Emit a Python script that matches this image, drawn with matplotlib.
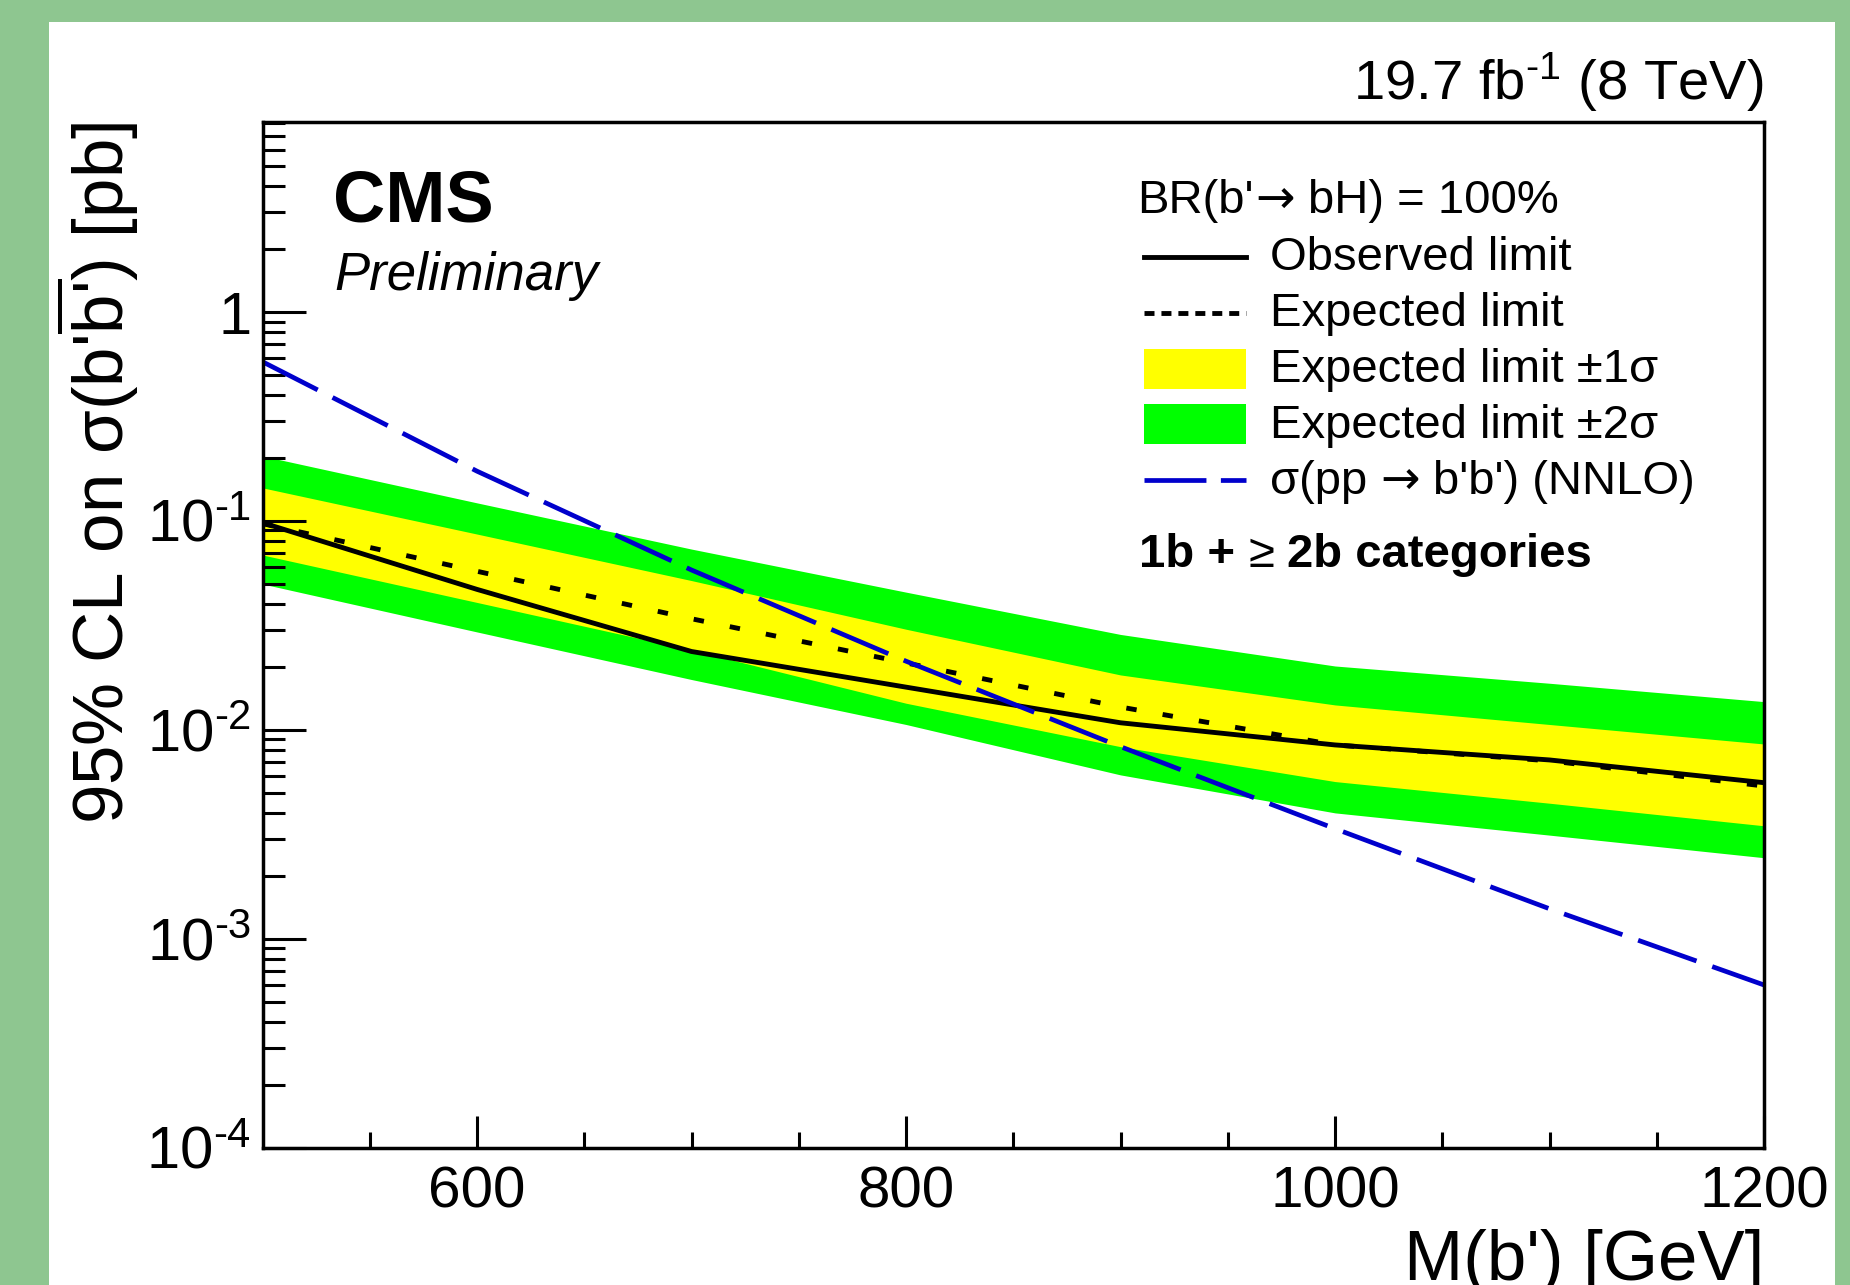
import matplotlib
matplotlib.use('Agg')
import matplotlib.pyplot as plt
import numpy as np
from matplotlib.lines import Line2D
from matplotlib.patches import Rectangle
from matplotlib.ticker import FixedLocator, FuncFormatter, LogLocator, NullFormatter

plt.rcParams['font.family'] = ['Liberation Sans', 'DejaVu Sans']
plt.rcParams['mathtext.fontset'] = 'custom'
plt.rcParams['mathtext.rm'] = 'Liberation Sans'
plt.rcParams['mathtext.it'] = 'Liberation Sans:italic'
plt.rcParams['mathtext.bf'] = 'Liberation Sans:bold'
plt.rcParams['mathtext.sf'] = 'Liberation Sans'
plt.rcParams['mathtext.default'] = 'regular'
plt.rcParams['lines.scale_dashes'] = False

# ---------------- data ----------------
mass = [500, 600, 700, 800, 900, 1000, 1100, 1200]
observed = [0.098, 0.047, 0.0237, 0.0160, 0.0108, 0.00846, 0.00717, 0.00558]
expected = [0.097, 0.0574, 0.034, 0.0209, 0.01285, 0.00846, 0.0071, 0.00538]
exp_1s_lo = [0.0687, 0.0407, 0.0241, 0.0134, 0.0083, 0.00565, 0.00445, 0.00347]
exp_1s_hi = [0.144, 0.0865, 0.0518, 0.0303, 0.0183, 0.01315, 0.0106, 0.00855]
exp_2s_lo = [0.0499, 0.0294, 0.0174, 0.0106, 0.00608, 0.0040, 0.00313, 0.00244]
exp_2s_hi = [0.2046, 0.122, 0.0733, 0.0456, 0.0286, 0.0202, 0.0167, 0.01364]
theory = [0.578, 0.173, 0.0582, 0.0213, 0.0083, 0.00336, 0.00139, 0.0006]

x_major = [600, 800, 1000, 1200]
y_major = [1e-4, 1e-3, 1e-2, 1e-1, 1]
legend_labels = ["Observed limit", "Expected limit", "Expected limit \u00b11\u03c3",
                 "Expected limit \u00b12\u03c3"]

# ---------------- figure ----------------
W, H = 1850, 1285
fig = plt.figure(figsize=(W / 100, H / 100), dpi=100)
fig.patch.set_facecolor('#8ec690')

bg = fig.add_axes([0, 0, 1, 1], zorder=0)
bg.set_xlim(0, W)
bg.set_ylim(H, 0)
bg.axis('off')
bg.add_patch(Rectangle((49, 22), 1835 - 49, H - 22 + 5, facecolor='white', edgecolor='none'))

L, T, R, B = 262.5, 121.5, 1764, 1147.5
ax = fig.add_axes([L / W, 1 - B / H, (R - L) / W, (B - T) / H], zorder=1)
ax.patch.set_alpha(0)

GREEN = '#00ff00'
YELLOW = '#ffff00'
BLUE = '#0000cc'

ax.fill_between(mass, exp_2s_lo, exp_2s_hi, color=GREEN, lw=0)
ax.fill_between(mass, exp_1s_lo, exp_1s_hi, color=YELLOW, lw=0)
ax.plot(mass, expected, color='k', lw=3.5, ls=(0, (7.5, 19)))
ax.plot(mass, observed, color='k', lw=3.5)
ax.plot(mass, theory, color=BLUE, lw=3.4, ls=(0, (44.6, 12)))

ax.set_yscale('log')
ax.set_xlim(500, 1200)
ax.set_ylim(1e-4, 8.17)

ax.xaxis.set_major_locator(FixedLocator(x_major))
ax.xaxis.set_minor_locator(FixedLocator(np.arange(550, 1200, 50)))
ax.xaxis.set_major_formatter(FuncFormatter(lambda v, p: f"{int(round(v))}"))
ax.yaxis.set_major_locator(FixedLocator(y_major))
ax.yaxis.set_minor_locator(LogLocator(base=10, subs=np.arange(2, 10)))
ax.yaxis.set_minor_formatter(NullFormatter())


def yfmt(v, p):
    e = int(round(np.log10(v)))
    if e == 0:
        return "1"
    return r"$10^{\text{%d}}$" % e if e > 0 else r"$10^{\text{-%d}}$" % (-e)


ax.yaxis.set_major_formatter(FuncFormatter(yfmt))

ax.tick_params(axis='x', which='major', direction='in', length=23, width=2.2,
               labelsize=42, pad=13, top=False)
ax.tick_params(axis='x', which='minor', direction='in', length=11.5, width=2.2, top=False)
ax.tick_params(axis='y', which='major', direction='in', length=31, width=2.2,
               labelsize=43, pad=8, right=False)
ax.tick_params(axis='y', which='minor', direction='in', length=16, width=2.2, right=False)
for s in ax.spines.values():
    s.set_linewidth(2.5)
    s.set_color('black')

# ---------------- overlay texts / legend ----------------
ov = fig.add_axes([0, 0, 1, 1], zorder=3)
ov.set_xlim(0, W)
ov.set_ylim(H, 0)
ov.axis('off')
ov.patch.set_alpha(0)
renderer = fig.canvas.get_renderer()


def chain(x, y, parts, fs):
    """parts: list of (text, family, weight, gap_after_px)"""
    for s, fam, wt, gap in parts:
        t = ov.text(x, y, s, fontsize=fs, family=fam, fontweight=wt,
                    ha='left', va='baseline')
        x += t.get_window_extent(renderer).width + gap
    return x


ov.text(333, 222, "CMS", fontsize=52, fontweight='bold', ha='left', va='baseline')
ov.text(334, 290, "Preliminary", fontsize=38, fontstyle='italic', ha='left', va='baseline')
ov.text(1764, 100, r"19.7 fb$^{\text{-1}}$ (8 TeV)", fontsize=40.5, ha='right', va='baseline')

LFS = 34
SP = 13
chain(1137, 213, [("BR(b'", 'Liberation Sans', 'normal', 2),
                  ("\u2192", 'DejaVu Sans', 'normal', SP),
                  ("bH) = 100%", 'Liberation Sans', 'normal', 0)], LFS)
x0, x1, xt = 1143.5, 1246, 1270
rows = [257, 313, 369, 424, 480]
ov.add_line(Line2D([x0, x1], [rows[0]] * 2, color='k', lw=3.5))
ov.add_line(Line2D([x0, x1], [rows[1]] * 2, color='k', lw=3.5, ls=(0, (7.2, 5))))
ov.add_patch(Rectangle((x0, rows[2] - 20), x1 - x0, 40, facecolor=YELLOW, edgecolor='none'))
ov.add_patch(Rectangle((x0, rows[3] - 20), x1 - x0, 40, facecolor=GREEN, edgecolor='none'))
ov.add_line(Line2D([x0, x1], [rows[4]] * 2, color=BLUE, lw=3.4, ls=(0, (44.6, 10.4))))
baselines = [270, 326, 382, 438, 494]
for lab, yb in zip(legend_labels, baselines[:4]):
    ov.text(xt, yb, lab, fontsize=LFS, ha='left', va='baseline')
chain(xt, baselines[4], [("\u03c3(pp", 'Liberation Sans', 'normal', SP),
                         ("\u2192", 'DejaVu Sans', 'normal', SP),
                         ("b'b') (NNLO)", 'Liberation Sans', 'normal', 0)], LFS)
chain(1139, 567, [("1b +", 'Liberation Sans', 'bold', SP),
                  ("\u2265", 'Liberation Sans', 'normal', SP),
                  ("2b categories", 'Liberation Sans', 'bold', 0)], LFS)

ov.text(53, 121.5, r"95% CL on $\sigma$(b'$\overline{\text{b'}}$) [pb]", fontsize=51,
        rotation=90, ha='left', va='top')
ov.text(1764, 1280, "M(b') [GeV]", fontsize=51, ha='right', va='baseline')

fig.savefig('out.png', dpi=100, facecolor=fig.get_facecolor())
